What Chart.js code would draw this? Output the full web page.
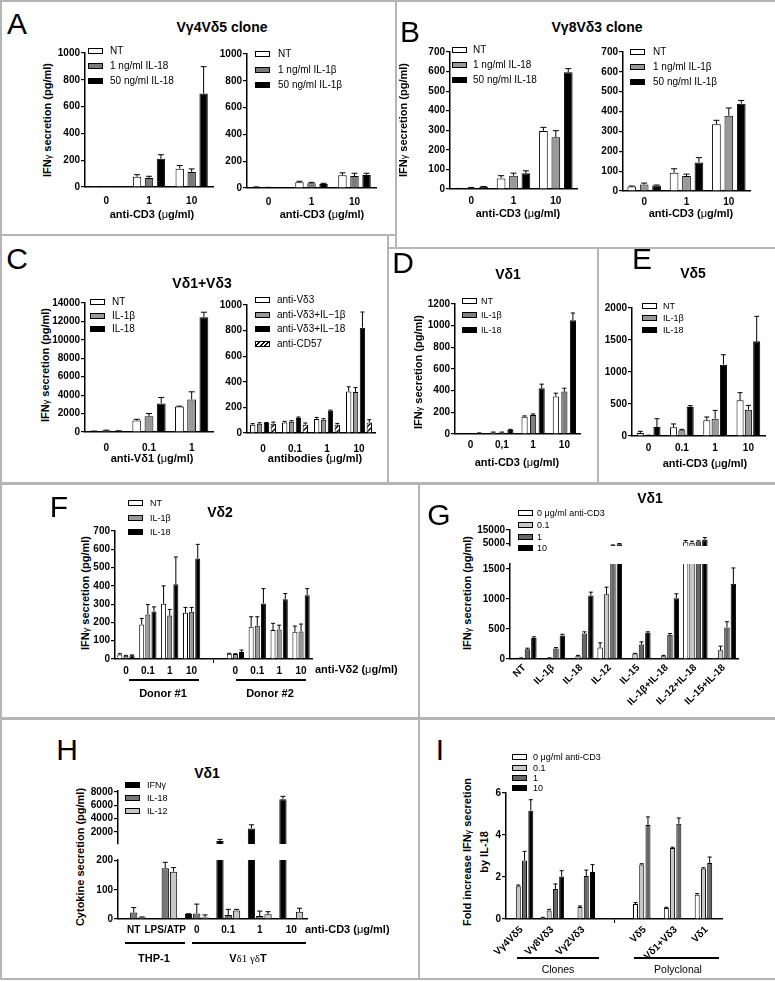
<!DOCTYPE html>
<html>
<head>
<meta charset="utf-8">
<script src="https://cdn.jsdelivr.net/npm/chart.js@4"></script>
<style>
  body { margin: 0; background: #fff; }
  #fig { position: relative; width: 775px; height: 982px; overflow: hidden; font-family: "Liberation Sans", Arial, sans-serif; color: #000; }
  .box { position: absolute; border: 2px solid #b5b5b5; box-sizing: border-box; }
  .t { position: absolute; white-space: nowrap; line-height: 1; transform: translate(-50%, -50%); }
  .l { transform: translate(0, -50%); }
  .letter { font-size: 30px; }
  .title { font-size: 14px; font-weight: bold; }
  .ax { font-size: 11px; font-weight: bold; }
  .yt { transform: translate(-50%, -50%) rotate(-90deg); }
  .leg { font-size: 10px; }
  .sw { position: absolute; width: 13px; height: 4px; border: 1px solid #000; }
  .rule { position: absolute; height: 2px; background: #000; }
  .mu { font-weight: normal; }
  canvas { position: absolute; }
</style>
</head>
<body>
<div id="fig">
  <div class="box" style="left:0;top:0;width:397px;height:236px"></div>
  <div class="box" style="left:395px;top:0;width:382px;height:249px"></div>
  <div class="box" style="left:0;top:234px;width:389px;height:251px"></div>
  <div class="box" style="left:387px;top:247px;width:212px;height:238px"></div>
  <div class="box" style="left:597px;top:247px;width:180px;height:238px"></div>
  <div class="box" style="left:0;top:482px;width:420px;height:238px"></div>
  <div class="box" style="left:418px;top:482px;width:359px;height:238px"></div>
  <div class="box" style="left:0;top:717px;width:420px;height:263px"></div>
  <div class="box" style="left:418px;top:717px;width:359px;height:263px"></div>
</div>
<script>
// ---------- data ----------
// A: Vγ4Vδ5 clone
const cd3Doses = ['0', '1', '10'];
const aTicks = [0, 200, 400, 600, 800, 1000];
const aIL18Series = ['NT', '1 ng/ml IL-18', '50 ng/ml IL-18'];
const aIL18Values = [[1, 77, 137], [1, 67, 112], [1, 211, 697]];
const aIL18Errors = [[0, 92, 160], [0, 80, 135], [0, 241, 898]];
const aIL1bSeries = ['NT', '1 ng/ml IL-1β', '50 ng/ml IL-1β'];
const aIL1bValues = [[6, 42, 95], [3, 35, 90], [3, 30, 97]];
const aIL1bErrors = [[8, 50, 113], [5, 42, 110], [4, 35, 110]];

// B: Vγ8Vδ3 clone
const bTicks = [0, 100, 200, 300, 400, 500, 600, 700];
const bIL18Values = [[2, 54, 296], [5, 68, 264], [10, 81, 596]];
const bIL18Errors = [[3, 68, 315], [8, 81, 298], [13, 93, 615]];
const bIL1bValues = [[23, 92, 336], [33, 75, 379], [28, 144, 440]];
const bIL1bErrors = [[25, 112, 356], [40, 85, 418], [30, 168, 456]];

// C: Vδ1+Vδ3
const cLeftDoses = ['0', '0.1', '1'];
const cLeftTicks = [0, 2000, 4000, 6000, 8000, 10000, 12000, 14000];
const cytoSeries = ['NT', 'IL-1β', 'IL-18'];
const cLeftValues = [[80, 1240, 2760], [150, 1710, 3530], [100, 3090, 12440]];
const cLeftErrors = [[100, 1380, 2800], [200, 2000, 4360], [130, 3750, 13000]];
const cRightDoses = ['0', '0.1', '1', '10'];
const cRightTicks = [0, 200, 400, 600, 800, 1000];
const cRightSeries = ['anti-Vδ3', 'anti-Vδ3+IL−1β', 'anti-Vδ3+IL−18', 'anti-CD57'];
const cRightValues = [[65, 83, 109, 325], [73, 88, 104, 320], [78, 117, 174, 823], [73, 65, 65, 83]];
const cRightErrors = [[73, 91, 122, 361], [80, 96, 112, 355], [82, 125, 179, 945], [85, 78, 75, 104]];

// D: Vδ1
const dDoses = ['0', '0,1', '1', '10'];
const dTicks = [0, 200, 400, 600, 800, 1000, 1200];
const dValues = [[3, 15, 160, 346], [3, 15, 176, 392], [8, 37, 423, 1049]];
const dErrors = [[5, 18, 167, 377], [5, 18, 185, 423], [10, 43, 460, 1117]];

// E: Vδ5
const eDoses = ['0', '0.1', '1', '10'];
const eTicks = [0, 500, 1000, 1500, 2000];
const eValues = [[47, 135, 245, 557], [10, 88, 270, 411], [140, 453, 1115, 1479]];
const eErrors = [[73, 188, 297, 677], [12, 104, 400, 479], [270, 474, 1270, 1870]];

// F: Vδ2, two donors
const fDoses = ['0', '0.1', '1', '10', '', '0', '0.1', '1', '10'];
const fTicks = [0, 100, 200, 300, 400, 500, 600, 700];
const fValues = [
  [24, 189, 302, 253, null, 29, 176, 158, 149],
  [18, 244, 238, 258, null, 27, 182, 162, 151],
  [20, 260, 409, 549, null, 38, 304, 327, 349]
];
const fErrors = [
  [29, 222, 400, 282, null, 31, 231, 195, 180],
  [20, 298, 271, 282, null, 29, 231, 185, 191],
  [22, 285, 558, 627, null, 49, 385, 358, 385]
];

// G: Vδ1, cytokine combinations
const gCytokines = ['NT', 'IL-1β', 'IL-18', 'IL-12', 'IL-15', 'IL-1β+IL-18', 'IL-12+IL-18', 'IL-15+IL-18'];
const cd3Series = ['0 <span class="mu">μ</span>g/ml anti-CD3', '0.1', '1', '10'];
const gUpperTicks = [5000, 10000, 15000];
const gLowerTicks = [0, 500, 1000, 1500];
const gValues = [
  [5, 3, 8, 190, 3, 8, 5750, 17],
  [15, 17, 45, 1080, 90, 45, 5360, 145],
  [162, 173, 425, 3390, 240, 403, 6250, 526],
  [352, 392, 1058, 4140, 436, 1013, 7680, 1253]
];
const gErrors = [
  [null, null, null, 269, null, null, 6980, null],
  [18, 20, 60, 1197, 95, 60, 6430, 213],
  [180, 190, 453, 3600, 285, 425, 6790, 621],
  [370, 413, 1114, 4660, 453, 1086, 9290, 1517]
];

// H: Vδ1 with THP-1
const hConditions = ['NT', 'LPS/ATP', '0', '0.1', '1', '10'];
const hSeries = ['IFNγ', 'IL-18', 'IL-12'];
const hUpperTicks = [2000, 4000, 6000, 8000];
const hLowerTicks = [0, 50, 100, 150, 200];
const hValues = [
  [0, 0, 17, 650, 2530, 6890],
  [22, 174, 19, 14, 10, 0],
  [6, 162, 6, 29, 16, 25]
];
const hErrors = [
  [null, null, 18, 890, 3070, 7330],
  [39, 194, 51, 33, 27, null],
  [7, 176, 14, 33, 25, 37]
];

// I: fold increase by IL-18
const iPopulations = ['Vγ4Vδ5', 'Vγ8Vδ3', 'Vγ2Vδ3', '', 'Vδ5', 'Vδ1+Vδ3', 'Vδ1'];
const iTicks = [0, 2, 4, 6];
const iValues = [
  [0.03, 0.06, 0.03, null, 0.71, 0.52, 1.16],
  [1.56, 0.41, 0.57, null, 2.59, 3.38, 2.40],
  [2.79, 1.43, 2.05, null, 4.48, 4.54, 2.67],
  [5.16, 2.02, 2.24, null, null, null, null]
];
const iErrors = [
  [null, 0.08, null, null, 0.78, 0.56, 1.21],
  [1.62, 0.46, 0.62, null, 2.63, 3.42, 2.44],
  [3.22, 1.67, 2.33, null, 4.86, 4.81, 2.95],
  [5.68, 2.30, 2.59, null, null, null, null]
];

// ---------- helpers ----------
const FONT = '"Liberation Sans", Arial, sans-serif';
const fig = document.getElementById('fig');

// one-sided (upper) error bars
const errorBars = {
  id: 'errorBars',
  afterDatasetsDraw(chart) {
    const { ctx, chartArea: a } = chart;
    const y = chart.scales.y;
    ctx.save();
    ctx.beginPath();
    ctx.rect(a.left, a.top - 1, a.right - a.left, a.bottom - a.top + 1);
    ctx.clip();
    ctx.strokeStyle = '#000';
    ctx.lineWidth = 1;
    chart.data.datasets.forEach((ds, i) => {
      if (!ds.err) return;
      chart.getDatasetMeta(i).data.forEach((bar, j) => {
        const v = ds.data[j], e = ds.err[j];
        if (v == null || e == null || e <= v) return;
        if (v < y.min || v > y.max) return; // bar top hidden in this segment
        const y0 = y.getPixelForValue(v), y1 = y.getPixelForValue(e);
        const hw = Math.max(2, bar.width * 0.35);
        ctx.beginPath();
        ctx.moveTo(bar.x, y0); ctx.lineTo(bar.x, y1);
        ctx.moveTo(bar.x - hw, y1); ctx.lineTo(bar.x + hw, y1);
        ctx.stroke();
      });
    });
    ctx.restore();
  }
};

function hatch() {
  const c = document.createElement('canvas');
  c.width = 5; c.height = 5;
  const x = c.getContext('2d');
  x.fillStyle = '#fff'; x.fillRect(0, 0, 5, 5);
  x.strokeStyle = '#000'; x.lineWidth = 1.3;
  x.beginPath();
  x.moveTo(0, 5); x.lineTo(5, 0);
  x.moveTo(-1, 1); x.lineTo(1, -1);
  x.moveTo(4, 6); x.lineTo(6, 4);
  x.stroke();
  return x.createPattern(c, 'repeat');
}

function sets(names, vals, errs, fills) {
  return names.map((n, i) => ({ label: n, data: vals[i], err: errs[i], backgroundColor: fills[i] }));
}

function makeChart(area, labels, datasets, o) {
  const [L, T, R, B] = area;
  const yw = 40, pt = 8, pr = 8;
  const xh = o.hideX ? 0 : (o.xh || 22);
  const w = R - L + yw + pr, h = B - T + pt + xh;
  const cv = document.createElement('canvas');
  cv.width = w; cv.height = h;
  cv.style.cssText = `left:${L - yw}px;top:${T - pt}px;width:${w}px;height:${h}px;`;
  fig.appendChild(cv);
  datasets.forEach(d => Object.assign(d, {
    borderColor: '#000', borderWidth: 1, clip: 0,
    categoryPercentage: o.cat, barPercentage: o.bar
  }));
  const tickFont = { family: FONT, size: 10, weight: 'bold' };
  return new Chart(cv, {
    type: 'bar',
    data: { labels, datasets },
    options: {
      responsive: false, animation: false, events: [],
      layout: { autoPadding: false, padding: { top: pt, right: pr, left: 0, bottom: 0 } },
      plugins: { legend: { display: false }, tooltip: { enabled: false } },
      scales: {
        x: {
          display: !o.hideX,
          afterFit: s => { s.height = xh; },
          border: { display: true, color: '#000', width: 1.5 },
          grid: {
            display: !!o.gap, drawOnChartArea: false, drawTicks: !!o.gap, tickLength: 4, offset: false,
            color: c => labels[c.index] === '' ? '#000' : 'rgba(0,0,0,0)'
          },
          ticks: {
            color: '#000', font: tickFont, padding: o.xPad ?? 8, autoSkip: false,
            minRotation: o.rot || 0, maxRotation: o.rot || 0
          }
        },
        y: {
          min: o.min ?? 0, max: o.max,
          afterBuildTicks: s => { s.ticks = o.ticks.map(v => ({ value: v })); },
          afterFit: s => { s.width = yw; },
          border: { display: true, color: '#000', width: 1.5 },
          grid: { display: true, drawOnChartArea: false, drawTicks: true, tickLength: 4, color: '#000', lineWidth: 1.2 },
          ticks: { color: '#000', font: tickFont, padding: 1, callback: v => String(v) }
        }
      }
    },
    plugins: [errorBars]
  });
}

function text(x, y, html, cls, extra) {
  const d = document.createElement('div');
  d.className = 't ' + (cls || '');
  d.style.left = x + 'px';
  d.style.top = y + 'px';
  if (extra) d.style.cssText += extra;
  d.innerHTML = html;
  fig.appendChild(d);
}

function legend(x, ys, names, fills, tx, size) {
  names.forEach((n, i) => {
    const s = document.createElement('div');
    s.className = 'sw';
    s.style.left = x + 'px';
    s.style.top = (ys[i] - 3) + 'px';
    s.style.background = fills[i];
    fig.appendChild(s);
    text(tx, ys[i], n, 'l leg', size ? `font-size:${size}px` : '');
  });
}

function rule(x1, x2, y) {
  const d = document.createElement('div');
  d.className = 'rule';
  d.style.cssText = `left:${x1}px;top:${y - 1}px;width:${x2 - x1}px;`;
  fig.appendChild(d);
}

const MU = '<span class="mu">μ</span>';
const IFN = 'IFN<span style="font-size:9px;font-weight:normal">γ</span> secretion (pg/ml)';
const hatchFill = hatch();
const hatchCss = 'repeating-linear-gradient(135deg,#fff 0 2px,#000 2px 3.2px)';

// ---------- A ----------
text(17, 24, 'A', 'letter');
text(222, 27, 'Vγ4Vδ5 clone', 'title');
text(47, 120, IFN, 'ax yt');
makeChart([85, 53, 213, 187], cd3Doses, sets(aIL18Series, aIL18Values, aIL18Errors, ['#fff', '#7a7a7a', '#000']),
  { max: 1000, ticks: aTicks, cat: 0.84, bar: 0.7, xPad: 8 });
legend(88, [50.5, 65.5, 80.5], aIL18Series, ['#fff', '#7a7a7a', '#000'], 110);
text(152, 214, `anti-CD3 (${MU}g/ml)`, 'ax');
makeChart([247, 54, 376, 188], cd3Doses, sets(aIL1bSeries, aIL1bValues, aIL1bErrors, ['#fff', '#7a7a7a', '#000']),
  { max: 1000, ticks: aTicks, cat: 0.84, bar: 0.7, xPad: 8 });
legend(255, [54, 69.5, 85], aIL1bSeries, ['#fff', '#7a7a7a', '#000'], 278);
text(322, 214, `anti-CD3 (${MU}g/ml)`, 'ax');

// ---------- B ----------
text(410, 32, 'B', 'letter');
text(597, 27, 'Vγ8Vδ3 clone', 'title');
text(403, 120, IFN, 'ax yt');
makeChart([450, 52, 577, 189], cd3Doses, sets(aIL18Series, bIL18Values, bIL18Errors, ['#fff', '#999', '#000']),
  { max: 700, ticks: bTicks, cat: 0.88, bar: 0.7, xPad: 6 });
legend(452, [50, 64.5, 80], aIL18Series, ['#fff', '#999', '#000'], 473);
text(518, 213, `anti-CD3 (${MU}g/ml)`, 'ax');
makeChart([623, 52, 750, 191], cd3Doses, sets(aIL1bSeries, bIL1bValues, bIL1bErrors, ['#fff', '#999', '#000']),
  { max: 700, ticks: bTicks, cat: 0.88, bar: 0.7, xPad: 5 });
legend(630, [52, 67, 82], aIL1bSeries, ['#fff', '#999', '#000'], 653);
text(691, 213, `anti-CD3 (${MU}g/ml)`, 'ax');

// ---------- C ----------
text(17, 259, 'C', 'letter');
text(202, 283, 'Vδ1+Vδ3', 'title');
text(45, 365, IFN, 'ax yt');
makeChart([85, 303, 213, 432], cLeftDoses, sets(cytoSeries, cLeftValues, cLeftErrors, ['#fff', '#999', '#000']),
  { max: 14000, ticks: cLeftTicks, cat: 0.86, bar: 0.72, xPad: 10 });
legend(90, [302, 315.5, 329], cytoSeries, ['#fff', '#999', '#000'], 112);
text(152, 458, `anti-Vδ1 (${MU}g/ml)`, 'ax');
makeChart([247, 305, 375, 433], cRightDoses, sets(cRightSeries, cRightValues, cRightErrors, ['#fff', '#999', '#000', hatchFill]),
  { max: 1000, ticks: cRightTicks, cat: 0.86, bar: 0.78, xPad: 10 });
legend(255, [300, 314.5, 329, 343.5], cRightSeries, ['#fff', '#999', '#000', hatchCss], 277);
text(315, 458, `antibodies (${MU}g/ml)`, 'ax');

// ---------- D ----------
text(403, 263, 'D', 'letter');
text(508, 274, 'Vδ1', 'title');
text(418, 372, IFN, 'ax yt');
makeChart([455, 304, 580, 434], dDoses, sets(cytoSeries, dValues, dErrors, ['#fff', '#7f7f7f', '#000']),
  { max: 1200, ticks: dTicks, cat: 0.82, bar: 0.72, xPad: 5 });
legend(462, [301, 315, 330], cytoSeries, ['#fff', '#7f7f7f', '#000'], 481, 9);
text(517, 462, `anti-CD3 (${MU}g/ml)`, 'ax');

// ---------- E ----------
text(642, 259, 'E', 'letter');
text(693, 273, 'Vδ5', 'title');
makeChart([632, 308, 765, 436], eDoses, sets(cytoSeries, eValues, eErrors, ['#fff', '#999', '#000']),
  { max: 2000, ticks: eTicks, cat: 0.75, bar: 0.85, xPad: 6 });
legend(642, [306, 318, 329.5], cytoSeries, ['#fff', '#999', '#000'], 663, 9);
text(705, 463, `anti-CD3 (${MU}g/ml)`, 'ax');

// ---------- F ----------
text(59, 507, 'F', 'letter');
text(220, 512, 'Vδ2', 'title');
text(85, 593, IFN, 'ax yt');
makeChart([115, 531, 312, 659], fDoses, sets(cytoSeries, fValues, fErrors, ['#fff', '#999', '#000']),
  { max: 700, ticks: fTicks, cat: 0.84, bar: 0.82, gap: true, xPad: 2 });
legend(128, [503, 518, 532], cytoSeries, ['#fff', '#999', '#000'], 150, 9);
text(315, 669, `anti-Vδ2 (${MU}g/ml)`, 'ax l');
rule(129, 199, 680);
rule(236, 306, 680);
text(163, 693, 'Donor #1', 'ax');
text(270, 693, 'Donor #2', 'ax');

// ---------- G ----------
const gFills = ['#fff', '#c8c8c8', '#666', '#000'];
text(439, 515, 'G', 'letter');
text(650, 498, 'Vδ1', 'title');
text(467, 593, IFN, 'ax yt');
makeChart([510, 530, 738, 553], gCytokines, sets(cd3Series, gValues, gErrors, gFills),
  { min: 2800, max: 15000, ticks: gUpperTicks, cat: 0.9, bar: 0.85, hideX: true });
makeChart([510, 564, 738, 659], gCytokines, sets(cd3Series, gValues, gErrors, gFills),
  { max: 1583, ticks: gLowerTicks, cat: 0.9, bar: 0.85, rot: 45, xh: 58, xPad: 3 });
legend(518, [513, 525, 536.5, 548], cd3Series, gFills, 537, 9);

// ---------- H ----------
const hFills = ['#000', '#777', '#c8c8c8'];
text(67, 750, 'H', 'letter');
text(207, 773, 'Vδ1', 'title');
text(80, 857, 'Cytokine secretion (pg/ml)', 'ax yt');
makeChart([118, 791, 307, 851], hConditions, sets(hSeries, hValues, hErrors, hFills),
  { min: 200, max: 8130, ticks: hUpperTicks, cat: 0.79, bar: 0.88, hideX: true });
makeChart([118, 860, 307, 919], hConditions, sets(hSeries, hValues, hErrors, hFills),
  { max: 202, ticks: hLowerTicks, cat: 0.79, bar: 0.88, xPad: 5 });
legend(125, [785, 798, 811], hSeries, hFills, 147, 9);
text(305, 929, `anti-CD3 (${MU}g/ml)`, 'ax l');
rule(125, 185, 943);
rule(192, 306, 943);
text(154, 958, 'THP-1', 'ax');
text(248, 958, 'V<span style="font-family:\'Liberation Serif\',serif;font-weight:normal">δ1 γδ</span>T', 'ax');

// ---------- I ----------
text(440, 750, 'I', 'letter');
text(475, 852, 'Fold increase IFN<span style="font-size:9px;font-weight:normal">γ</span> secretion<br>by IL-18', 'ax yt',
  'text-align:center;line-height:16px');
makeChart([506, 793, 722, 919], iPopulations, sets(cd3Series, iValues, iErrors, gFills),
  { max: 6, ticks: iTicks, cat: 0.81, bar: 0.8, rot: 45, xh: 40, gap: true, xPad: 1 });
legend(512, [757, 767.5, 778, 788], cd3Series, gFills, 533, 9);
rule(517, 599, 958);
rule(634, 719, 958);
text(558, 969, 'Clones', '', 'font-size:10.5px');
text(678, 969, 'Polyclonal', '', 'font-size:10.5px');
</script>
</body>
</html>
